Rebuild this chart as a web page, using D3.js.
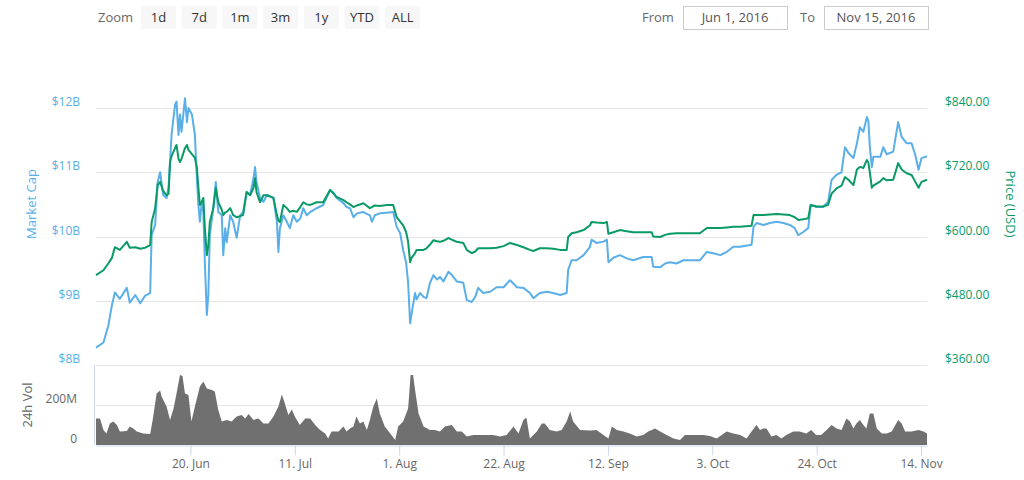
<!DOCTYPE html>
<html>
<head>
<meta charset="utf-8">
<style>
html, body {
  margin: 0;
  background: #fff;
  overflow: hidden;
}
text {
  font-family: "Open Sans", "DejaVu Sans", sans-serif;
}
.grid line {
  stroke: #e6e6e6;
  stroke-width: 1px;
}
.btn rect {
  fill: #f7f7f7;
}
.btn text {
  fill: #333;
  font-size: 13px;
}
</style>
<script src="https://d3js.org/d3.v7.min.js"></script>
</head>
<body>
<svg id="chart" width="1024" height="480"></svg>
<script>
// days since 1 Jun 2016 (UTC), market cap in $B, price in USD
var days = [0.0, 1.5, 2.5, 3.2, 3.8, 4.8, 6.2, 6.8, 7.9, 8.9, 9.9, 10.9, 11.2, 11.9, 12.4, 12.9, 13.5, 14.2, 14.6, 14.9,
  15.2, 15.9, 16.2, 16.6, 16.9, 17.2, 17.9, 18.3, 18.6, 19.3, 19.9, 20.3, 20.6, 20.9, 21.3, 21.6, 21.9, 22.3, 22.6, 22.9,
  23.6, 24.1, 24.6, 25.3, 25.6, 26.0, 26.3, 27.0, 27.6, 28.3, 29.0, 29.6, 30.3, 31.0, 31.7, 32.0, 32.3, 33.0, 33.7, 34.4,
  35.7, 36.4, 36.7, 37.0, 37.7, 38.4, 39.0, 39.7, 40.4, 41.1, 41.7, 42.4, 43.1, 44.4, 45.7, 47.1, 47.8, 48.4, 49.8, 50.4,
  51.1, 51.8, 52.5, 53.8, 55.1, 55.5, 56.1, 57.1, 58.5, 59.8, 60.5, 61.2, 61.8, 62.4, 62.8, 63.2, 63.5, 64.2, 64.5, 65.2,
  65.9, 66.5, 67.2, 67.9, 68.6, 69.2, 69.9, 70.9, 71.6, 72.6, 73.9, 74.6, 75.6, 76.3, 76.9, 77.9, 79.3, 80.6, 82.0, 83.3,
  84.7, 86.0, 87.3, 88.0, 89.3, 90.7, 92.0, 93.4, 94.7, 95.0, 95.7, 96.7, 98.1, 99.4, 99.7, 100.7, 102.1, 102.8, 103.1, 104.1,
  105.4, 106.8, 108.1, 110.1, 111.8, 112.1, 113.5, 114.5, 115.5, 116.8, 118.2, 119.5, 121.5, 122.9, 124.2, 125.6, 126.9, 128.2, 129.6, 131.9,
  132.3, 132.9, 134.3, 135.6, 137.0, 138.3, 139.6, 140.6, 141.3, 142.3, 143.3, 143.8, 145.0, 146.3, 147.3, 148.0, 149.0, 150.0, 150.7, 151.4,
  152.4, 153.1, 153.7, 154.4, 155.1, 155.4, 155.7, 156.1, 156.4, 157.8, 158.4, 159.1, 160.4, 161.4, 162.1, 163.1, 164.1, 164.8, 165.5, 166.1,
  167.2];

var marketCap = [8.27, 8.35, 8.62, 8.93, 9.13, 9.03, 9.2, 8.97, 9.09, 8.96, 9.08, 9.12, 10.02, 10.18, 10.85, 11.0, 10.65, 10.6, 10.77, 11.16,
  11.58, 12.05, 12.1, 11.58, 11.9, 11.63, 12.15, 11.78, 12.0, 11.9, 11.58, 10.91, 10.49, 10.23, 10.54, 10.38, 9.6, 8.78, 9.09, 10.02,
  10.44, 10.85, 10.38, 10.33, 9.71, 10.13, 9.91, 10.33, 10.23, 9.98, 10.33, 10.38, 10.69, 10.65, 10.91, 11.08, 10.85, 10.6, 10.54, 10.65,
  10.6, 10.23, 9.76, 10.13, 10.33, 10.23, 10.13, 10.33, 10.23, 10.28, 10.44, 10.33, 10.38, 10.44, 10.49, 10.72, 10.68, 10.6, 10.52, 10.46,
  10.44, 10.3, 10.36, 10.38, 10.33, 10.23, 10.33, 10.36, 10.37, 10.38, 10.15, 10.05, 9.79, 9.59, 9.28, 8.65, 8.8, 9.12, 9.02, 9.12,
  9.06, 9.04, 9.28, 9.4, 9.33, 9.37, 9.3, 9.45, 9.4, 9.3, 9.28, 9.01, 8.98, 9.06, 9.2, 9.12, 9.14, 9.21, 9.21, 9.32,
  9.21, 9.2, 9.12, 9.04, 9.12, 9.14, 9.12, 9.09, 9.12, 9.48, 9.63, 9.63, 9.71, 9.84, 9.95, 9.9, 9.92, 9.95, 9.6, 9.67,
  9.71, 9.66, 9.63, 9.68, 9.68, 9.53, 9.52, 9.58, 9.6, 9.58, 9.63, 9.63, 9.63, 9.76, 9.74, 9.71, 9.76, 9.84, 9.84, 9.87,
  10.15, 10.21, 10.18, 10.21, 10.23, 10.21, 10.18, 10.13, 10.02, 10.07, 10.13, 10.49, 10.46, 10.46, 10.54, 10.88, 10.96, 11.0, 11.39, 11.3,
  11.22, 11.45, 11.7, 11.63, 11.86, 11.8, 11.39, 11.08, 11.24, 11.24, 11.39, 11.28, 11.32, 11.78, 11.55, 11.45, 11.45, 11.28, 11.04, 11.22,
  11.25];

var price = [528, 537, 550, 560, 580, 575, 590, 579, 580, 577, 579, 584, 627, 653, 696, 702, 685, 677, 680, 739,
  750, 765, 771, 745, 739, 745, 765, 771, 762, 754, 747, 728, 691, 659, 665, 672, 616, 565, 584, 627,
  653, 691, 664, 650, 640, 645, 646, 653, 640, 636, 638, 640, 683, 677, 691, 709, 683, 664, 677, 677,
  672, 640, 630, 627, 659, 653, 646, 648, 646, 655, 664, 660, 659, 664, 664, 687, 680, 674, 668, 664,
  660, 655, 658, 662, 653, 655, 658, 657, 659, 659, 636, 628, 621, 608, 590, 552, 560, 569, 575, 575,
  575, 578, 585, 593, 591, 590, 592, 597, 594, 590, 588, 575, 569, 572, 578, 578, 578, 579, 582, 588,
  584, 580, 575, 573, 578, 578, 577, 575, 575, 599, 606, 608, 612, 621, 627, 626, 625, 627, 605, 608,
  612, 610, 608, 608, 608, 600, 599, 603, 605, 606, 606, 606, 606, 616, 616, 616, 617, 618, 618, 620,
  640, 640, 640, 641, 642, 641, 640, 636, 631, 632, 634, 659, 656, 656, 659, 680, 690, 695, 711, 706,
  696, 725, 730, 728, 743, 738, 720, 691, 695, 703, 709, 705, 706, 737, 725, 718, 715, 703, 691, 702,
  706];

// 24h volume, millions USD
var volDays = [0, 0.8, 1.5, 2.1, 2.8, 3.5, 4.2, 4.8, 6.2, 6.8, 7.5, 8.2, 9.5, 10.9, 11.4, 12.2, 12.9, 13.2, 14.2, 14.9,
  15.6, 16.2, 16.9, 17.4, 17.9, 18.6, 19.2, 19.9, 20.9, 21.6, 22.3, 23.3, 23.9, 24.6, 25.3, 26.3, 27.3, 28.3, 29.3, 30.0,
  30.7, 31.7, 32.7, 33.7, 34.7, 35.7, 36.7, 37.4, 38.0, 38.7, 39.4, 40.0, 41.0, 42.1, 43.1, 44.1, 45.1, 46.1, 46.7, 47.4,
  48.8, 49.8, 50.4, 51.1, 51.8, 52.4, 53.1, 53.8, 54.5, 55.1, 55.8, 56.5, 57.1, 58.1, 59.2, 60.2, 60.8, 61.8, 62.8, 63.3,
  63.8, 64.2, 64.9, 65.9, 67.2, 68.2, 69.2, 70.2, 71.6, 72.6, 73.6, 74.6, 75.9, 77.9, 79.9, 81.3, 82.6, 84.0, 85.0, 86.0,
  86.6, 87.3, 88.7, 89.7, 90.3, 91.3, 92.7, 93.7, 94.7, 95.4, 96.0, 97.4, 99.4, 100.7, 102.1, 103.1, 103.8, 104.8, 106.1, 107.4,
  108.8, 110.1, 111.1, 112.5, 113.5, 114.8, 116.2, 117.5, 118.5, 120.2, 122.2, 123.5, 124.9, 126.9, 128.2, 129.6, 130.9, 131.9, 132.9, 133.6,
  134.3, 134.9, 135.9, 136.9, 137.9, 138.9, 140.3, 141.6, 142.9, 143.9, 144.9, 145.9, 147.0, 148.0, 149.0, 150.0, 151.0, 151.7, 152.4, 153.0,
  153.7, 154.4, 155.0, 155.7, 156.4, 157.1, 158.1, 159.1, 160.1, 161.4, 162.1, 162.8, 164.1, 165.5, 166.5, 167.2];

var volume = [133, 133, 75, 58, 108, 117, 100, 67, 70, 92, 83, 67, 58, 55, 125, 258, 272, 242, 192, 125,
  183, 258, 350, 345, 258, 250, 117, 192, 292, 317, 283, 275, 267, 175, 117, 125, 117, 142, 150, 133,
  155, 125, 133, 108, 108, 142, 192, 253, 208, 150, 178, 142, 100, 133, 133, 100, 75, 58, 33, 67,
  67, 92, 67, 83, 92, 142, 108, 117, 75, 125, 192, 233, 158, 92, 58, 25, 92, 117, 183, 350,
  350, 275, 158, 92, 75, 75, 67, 92, 100, 67, 67, 42, 50, 50, 50, 42, 50, 92, 58, 125,
  138, 33, 67, 108, 108, 75, 67, 75, 117, 167, 117, 75, 72, 75, 50, 33, 92, 75, 67, 58,
  42, 50, 67, 83, 67, 50, 33, 25, 50, 50, 50, 45, 33, 67, 58, 50, 33, 67, 100, 75,
  83, 83, 42, 50, 33, 50, 67, 67, 58, 75, 50, 50, 75, 100, 83, 75, 133, 117, 83, 108,
  125, 100, 83, 158, 158, 83, 58, 58, 67, 125, 108, 67, 67, 75, 67, 58];

var capTicks = [8, 9, 10, 11, 12];
var priceTicks = [360, 480, 600, 720, 840];
var volTicks = [0, 200, 400];
var volLabels = ["0", "200M", ""];
var dateTicks = ["2016-06-20", "2016-07-11", "2016-08-01", "2016-08-22", "2016-09-12", "2016-10-03", "2016-10-24", "2016-11-14"];
var zoomButtons = ["1d", "7d", "1m", "3m", "1y", "YTD", "ALL"];
var rangeFrom = "Jun 1, 2016";
var rangeTo = "Nov 15, 2016";

var blue = "#5aafe8";
var green = "#0a9a66";

var svg = d3.select("#chart");
var left = 96, right = 927;
var mainTop = 108, mainBottom = 365;
var volTop = 365, volBottom = 445;

var start = Date.UTC(2016, 5, 1);
var toDate = function(d) { return new Date(start + d * 864e5); };
var parse = d3.utcParse("%Y-%m-%d");
var fmt = d3.utcFormat("%-d. %b");

var series = days.map(function(d, i) {
  return {date: toDate(d), cap: marketCap[i], price: price[i]};
});
var vol = volDays.map(function(d, i) {
  return {date: toDate(d), v: volume[i]};
});

var x = d3.scaleUtc()
    .domain(d3.extent(series, d => d.date))
    .range([left, right]);
var yCap = d3.scaleLinear().domain([8, 12]).range([mainBottom, mainTop]);
var yPrice = d3.scaleLinear().domain([360, 840]).range([mainBottom, mainTop]);
var yVol = d3.scaleLinear().domain([0, 400]).range([volBottom, volTop]);

// toolbar
var bar = svg.append("g");
bar.append("text")
    .attr("x", 98).attr("y", 22)
    .attr("font-size", 13).attr("fill", "#666")
    .text("Zoom");
var btn = bar.selectAll("g.btn")
  .data(zoomButtons)
  .enter().append("g")
    .attr("class", "btn")
    .attr("transform", (d, i) => "translate(" + (141 + i * 40.7) + ",6)");
btn.append("rect").attr("width", 35).attr("height", 23).attr("rx", 2);
btn.append("text")
    .attr("x", 17.5).attr("y", 16)
    .attr("text-anchor", "middle")
    .text(d => d);

var inputs = [{label: "From", lx: 642, bx: 683, value: rangeFrom},
              {label: "To", lx: 800, bx: 824, value: rangeTo}];
var inp = bar.selectAll("g.inp")
  .data(inputs)
  .enter().append("g");
inp.append("text")
    .attr("x", d => d.lx).attr("y", 22)
    .attr("font-size", 13).attr("fill", "#666")
    .text(d => d.label);
inp.append("rect")
    .attr("x", d => d.bx + 0.5).attr("y", 6.5)
    .attr("width", 104).attr("height", 23)
    .attr("fill", "#fff").attr("stroke", "#ccc");
inp.append("text")
    .attr("x", d => d.bx + 52).attr("y", 22)
    .attr("text-anchor", "middle")
    .attr("font-size", 13).attr("fill", "#555")
    .text(d => d.value);

// grid lines
var grid = svg.append("g").attr("class", "grid");
grid.selectAll("line.m")
  .data(capTicks)
  .enter().append("line")
    .attr("x1", left).attr("x2", right)
    .attr("y1", d => Math.round(yCap(d)) + 0.5)
    .attr("y2", d => Math.round(yCap(d)) + 0.5);
grid.selectAll("line.v")
  .data(volTicks.slice(1))
  .enter().append("line")
    .attr("x1", left).attr("x2", right)
    .attr("y1", d => Math.round(yVol(d)) + 0.5)
    .attr("y2", d => Math.round(yVol(d)) + 0.5);

// axis labels, main panel
svg.append("g").selectAll("text")
  .data(capTicks)
  .enter().append("text")
    .attr("x", 80).attr("y", d => yCap(d) - 2)
    .attr("text-anchor", "end")
    .attr("font-size", 12).attr("fill", blue)
    .text(d => "$" + d + "B");
svg.append("g").selectAll("text")
  .data(priceTicks)
  .enter().append("text")
    .attr("x", 945).attr("y", d => yPrice(d) - 2)
    .attr("font-size", 12).attr("fill", green)
    .text(d => "$" + d3.format(".2f")(d));

svg.append("text")
    .attr("transform", "translate(36,204) rotate(-90)")
    .attr("text-anchor", "middle")
    .attr("font-size", 13).attr("fill", blue)
    .text("Market Cap");
svg.append("text")
    .attr("transform", "translate(1006,204) rotate(90)")
    .attr("text-anchor", "middle")
    .attr("font-size", 13).attr("fill", green)
    .text("Price (USD)");

// volume panel
svg.append("path")
    .datum(vol)
    .attr("fill", "#707070")
    .attr("d", d3.area()
        .x(d => x(d.date))
        .y0(yVol(0))
        .y1(d => yVol(d.v)));

svg.append("g").selectAll("text")
  .data(volTicks)
  .enter().append("text")
    .attr("x", 77).attr("y", d => yVol(d) - 2)
    .attr("text-anchor", "end")
    .attr("font-size", 12).attr("fill", "#666")
    .text((d, i) => volLabels[i]);
svg.append("text")
    .attr("transform", "translate(32,405) rotate(-90)")
    .attr("text-anchor", "middle")
    .attr("font-size", 13).attr("fill", "#666")
    .text("24h Vol");

svg.append("line")
    .attr("x1", 94.5).attr("x2", 94.5)
    .attr("y1", volTop).attr("y2", volBottom)
    .attr("stroke", "#ccd6eb");

// x axis
var xAxis = d3.axisBottom(x)
    .tickValues(dateTicks.map(parse))
    .tickFormat(fmt)
    .tickSize(10)
    .tickSizeOuter(0);
var gx = svg.append("g")
    .attr("transform", "translate(0," + (volBottom + 0.5) + ")")
    .call(xAxis);
gx.select(".domain").attr("stroke", "#ccd6eb");
gx.selectAll(".tick line").attr("stroke", "#ccd6eb");
gx.selectAll(".tick text")
    .attr("y", 14)
    .attr("font-size", 12)
    .attr("font-family", "'Open Sans', 'DejaVu Sans', sans-serif")
    .attr("fill", "#666");

// lines
svg.append("path")
    .datum(series)
    .attr("fill", "none")
    .attr("stroke", blue)
    .attr("stroke-width", 2)
    .attr("stroke-linejoin", "round")
    .attr("d", d3.line().x(d => x(d.date)).y(d => yCap(d.cap)));

svg.append("path")
    .datum(series)
    .attr("fill", "none")
    .attr("stroke", green)
    .attr("stroke-width", 2)
    .attr("stroke-linejoin", "round")
    .attr("d", d3.line().x(d => x(d.date)).y(d => yPrice(d.price)));
</script>
</body>
</html>
